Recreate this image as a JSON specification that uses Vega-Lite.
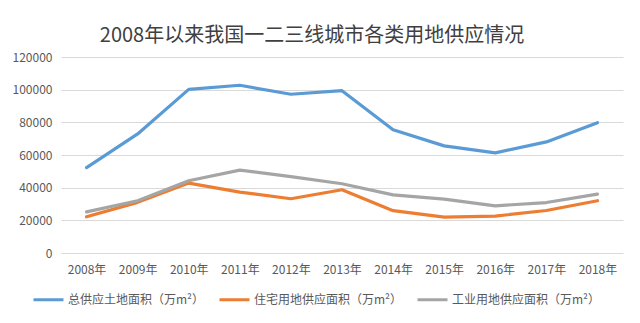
{
  "$schema": "https://vega.github.io/schema/vega-lite/v6.json",
  "autosize": "none",
  "width": 562,
  "height": 196,
  "padding": {"left": 61, "top": 57, "right": 17, "bottom": 70},
  "background": "white",
  "title": {
    "text": "2008年以来我国一二三线城市各类用地供应情况",
    "anchor": "middle",
    "frame": "group",
    "dx": -30,
    "offset": 5,
    "fontSize": 20,
    "font": "Noto Sans CJK SC",
    "fontWeight": "normal",
    "color": "#404040"
  },
  "data": {
    "values": [
      {"year": "2008年", "series": "总供应土地面积（万m²）", "value": 52300},
      {"year": "2009年", "series": "总供应土地面积（万m²）", "value": 72900},
      {"year": "2010年", "series": "总供应土地面积（万m²）", "value": 100200},
      {"year": "2011年", "series": "总供应土地面积（万m²）", "value": 102700},
      {"year": "2012年", "series": "总供应土地面积（万m²）", "value": 97200},
      {"year": "2013年", "series": "总供应土地面积（万m²）", "value": 99400},
      {"year": "2014年", "series": "总供应土地面积（万m²）", "value": 75400},
      {"year": "2015年", "series": "总供应土地面积（万m²）", "value": 65600},
      {"year": "2016年", "series": "总供应土地面积（万m²）", "value": 61300},
      {"year": "2017年", "series": "总供应土地面积（万m²）", "value": 68000},
      {"year": "2018年", "series": "总供应土地面积（万m²）", "value": 79800},
      {"year": "2008年", "series": "住宅用地供应面积（万m²）", "value": 22200},
      {"year": "2009年", "series": "住宅用地供应面积（万m²）", "value": 31000},
      {"year": "2010年", "series": "住宅用地供应面积（万m²）", "value": 42800},
      {"year": "2011年", "series": "住宅用地供应面积（万m²）", "value": 37300},
      {"year": "2012年", "series": "住宅用地供应面积（万m²）", "value": 33200},
      {"year": "2013年", "series": "住宅用地供应面积（万m²）", "value": 38700},
      {"year": "2014年", "series": "住宅用地供应面积（万m²）", "value": 25900},
      {"year": "2015年", "series": "住宅用地供应面积（万m²）", "value": 22000},
      {"year": "2016年", "series": "住宅用地供应面积（万m²）", "value": 22600},
      {"year": "2017年", "series": "住宅用地供应面积（万m²）", "value": 26000},
      {"year": "2018年", "series": "住宅用地供应面积（万m²）", "value": 32000},
      {"year": "2008年", "series": "工业用地供应面积（万m²）", "value": 25200},
      {"year": "2009年", "series": "工业用地供应面积（万m²）", "value": 32000},
      {"year": "2010年", "series": "工业用地供应面积（万m²）", "value": 44200},
      {"year": "2011年", "series": "工业用地供应面积（万m²）", "value": 50700},
      {"year": "2012年", "series": "工业用地供应面积（万m²）", "value": 46800},
      {"year": "2013年", "series": "工业用地供应面积（万m²）", "value": 42400},
      {"year": "2014年", "series": "工业用地供应面积（万m²）", "value": 35600},
      {"year": "2015年", "series": "工业用地供应面积（万m²）", "value": 33000},
      {"year": "2016年", "series": "工业用地供应面积（万m²）", "value": 28900},
      {"year": "2017年", "series": "工业用地供应面积（万m²）", "value": 30900},
      {"year": "2018年", "series": "工业用地供应面积（万m²）", "value": 36000}
    ]
  },
  "mark": {"type": "line", "strokeWidth": 3.2, "strokeCap": "round", "strokeJoin": "round"},
  "encoding": {
    "x": {
      "field": "year",
      "type": "ordinal",
      "scale": {"type": "point", "padding": 0.5},
      "axis": {
        "title": null,
        "labelAngle": 0,
        "ticks": false,
        "domain": false,
        "labelPadding": 11,
        "labelFontSize": 12,
        "labelColor": "#595959",
        "labelFont": "Noto Sans CJK SC"
      }
    },
    "y": {
      "field": "value",
      "type": "quantitative",
      "scale": {"domain": [0, 120000]},
      "axis": {
        "title": null,
        "values": [0, 20000, 40000, 60000, 80000, 100000, 120000],
        "format": "d",
        "ticks": false,
        "domain": false,
        "labelPadding": 9,
        "labelFontSize": 12,
        "labelColor": "#595959",
        "labelFont": "Noto Sans CJK SC",
        "gridColor": "#D9D9D9",
        "gridWidth": 1
      }
    },
    "color": {
      "field": "series",
      "type": "nominal",
      "sort": ["总供应土地面积（万m²）", "住宅用地供应面积（万m²）", "工业用地供应面积（万m²）"],
      "scale": {
        "domain": ["总供应土地面积（万m²）", "住宅用地供应面积（万m²）", "工业用地供应面积（万m²）"],
        "range": ["#5B9BD5", "#ED7D31", "#A5A5A5"]
      },
      "legend": {
        "title": null,
        "orient": "none",
        "legendX": -29,
        "legendY": 226,
        "direction": "horizontal",
        "symbolType": "stroke",
        "symbolSize": 900,
        "symbolStrokeWidth": 3,
        "labelFontSize": 12,
        "labelFont": "Noto Sans CJK SC",
        "labelColor": "#595959",
        "labelOffset": 3,
        "columnPadding": 8,
        "labelLimit": 300
      }
    }
  },
  "config": {"view": {"stroke": null}}
}
